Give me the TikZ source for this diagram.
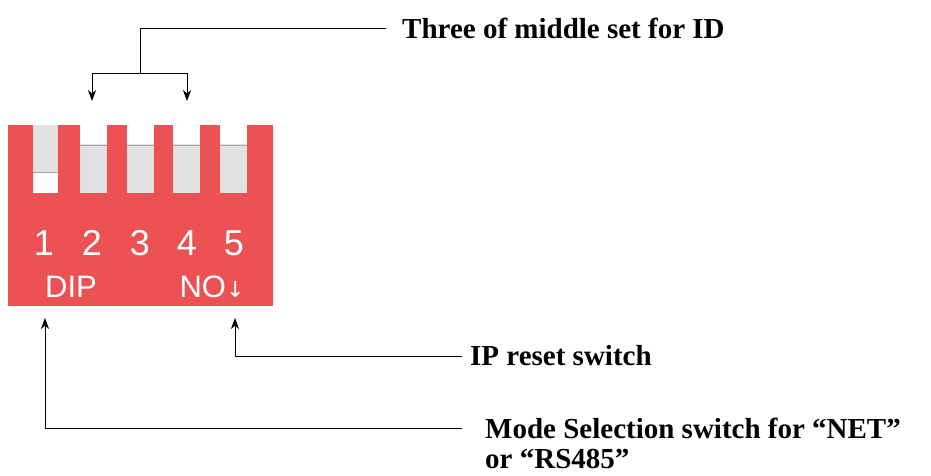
\documentclass[tikz,border=0pt]{standalone}
\usepackage{fontspec}
\setmainfont{Liberation Serif}
\newfontfamily\dipfont{Liberation Sans}
\newfontfamily\symfont{DejaVu Sans}
\usetikzlibrary{arrows.meta}
\definecolor{dipred}{RGB}{236,82,84}
\definecolor{slotgrey}{RGB}{225,225,225}
\begin{document}
\begin{tikzpicture}
		[x=1pt,y=-1pt,
		slotstyle/.style={fill=slotgrey,draw=none},
		knobstyle/.style={fill=white,draw=none},
		digitstyle/.style={text=white,font=\dipfont\fontsize{36}{36}\selectfont,inner sep=0pt},
		labelstyle/.style={anchor=west,font=\bfseries\fontsize{29}{30}\selectfont,inner sep=0pt},
		edgestyle/.style={-{Stealth[length=11pt,width=8pt]},semithick}]
		\useasboundingbox (0,0) rectangle (931,476);
		% switch body
		\fill[dipred] (8,125) rectangle (273,306);
		\fill[slotstyle] (33,125) rectangle (58,193);
		\fill[knobstyle] (33,172) rectangle (58,193);
		\draw[gray!70,thick] (33,172) -- (58,172);
		\foreach \x in {80,127,173,220} {
			\fill[slotstyle] (\x,125) rectangle (\x+27,193);
			\fill[knobstyle] (\x,125) rectangle (\x+27,144);
			\draw[gray!70,thick] (\x,145) -- (\x+27,145);
		}
		\node[digitstyle] (n1) at (44,243) {1};
		\node[digitstyle] (n2) at (92,243) {2};
		\node[digitstyle] (n3) at (140,243) {3};
		\node[digitstyle] (n4) at (187,243) {4};
		\node[digitstyle] (n5) at (234,243) {5};
		\node[digitstyle,font=\dipfont\fontsize{31}{31}\selectfont] (dip) at (71,287) {DIP};
		\node[digitstyle,font=\dipfont\fontsize{31}{31}\selectfont] (no) at (212,287) {NO{\symfont\fontsize{22}{22}\selectfont↓}};
		% callouts
		\coordinate (s2) at (92,101);
		\coordinate (s4) at (187,101);
		\coordinate (dipbot) at (45,318);
		\coordinate (nobot) at (235,318);
		\node[labelstyle] (idtext) at (402,28) {Three of middle set for ID};
		\node[labelstyle] (iptext) at (470,356) {IP reset switch};
		\node[labelstyle,align=left] (modetext) at (485,443) {Mode Selection switch for “NET”\\or “RS485”};
		\draw[semithick] (idtext.west) ++(-16,0) -- (140,28) -- (140,73);
		\draw[edgestyle] (140,73) -| (s2);
		\draw[edgestyle] (140,73) -| (s4);
		\draw[edgestyle] (iptext.west) ++(-8,0) -| (nobot);
		\draw[edgestyle] (462,428) -| (dipbot);
	\end{tikzpicture}
\end{document}
